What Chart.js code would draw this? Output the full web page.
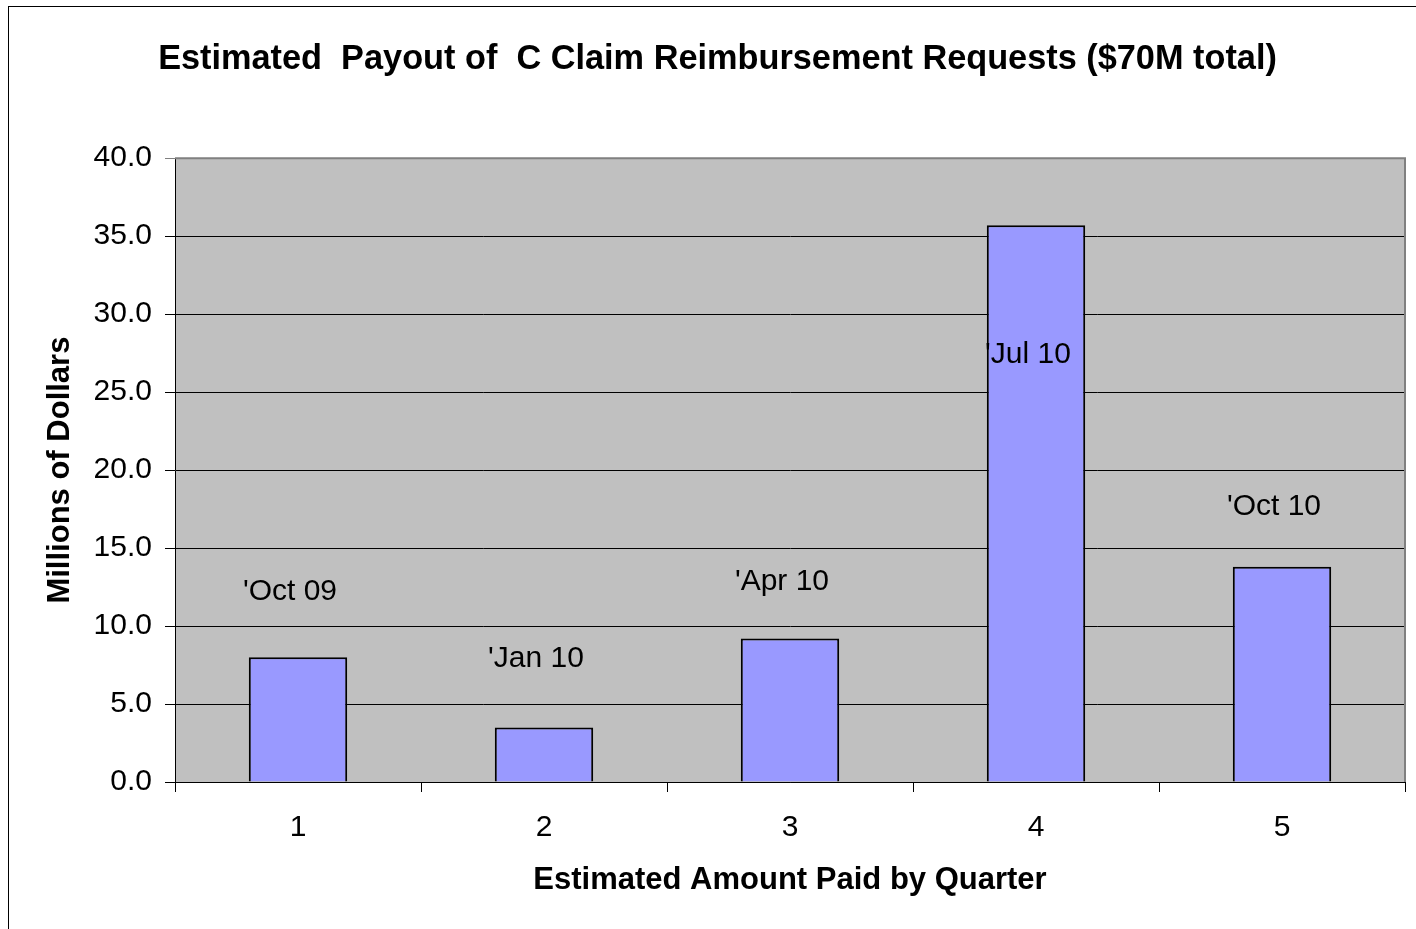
<!DOCTYPE html>
<html>
<head>
<meta charset="utf-8">
<script src="https://cdn.jsdelivr.net/npm/chart.js@4/dist/chart.umd.min.js"></script>
<style>
  html, body { margin: 0; padding: 0; background: #fff; }
  #wrap { width: 1416px; height: 929px; position: relative; }
</style>
</head>
<body>
<div id="wrap"><canvas id="payoutChart"></canvas></div>
<script>
const quarters = ["1", "2", "3", "4", "5"]
const payout = [8.0, 3.5, 9.2, 35.7, 13.8]
const quarterNames = ["'Oct 09", "'Jan 10", "'Apr 10", "'Jul 10", "'Oct 10"]
const nameLevels = [12.2, 7.9, 12.85, 27.4, 17.65]

const fontFamily = "'Liberation Sans', Arial, sans-serif"

// grey plot background, grey top/right border, outer frame
const frame = {
    id: "frame",
    beforeDraw(chart) {
        const ctx = chart.ctx
        const a = chart.chartArea
        ctx.save()
        ctx.fillStyle = "#fff"
        ctx.fillRect(0, 0, chart.width, chart.height)
        ctx.strokeStyle = "#000"
        ctx.lineWidth = 1
        ctx.strokeRect(8.5, 6.5, chart.width + 10, chart.height + 10)
        ctx.fillStyle = "#c0c0c0"
        ctx.fillRect(a.left, a.top, a.right - a.left, a.bottom - a.top)
        ctx.restore()
    },
    afterDatasetsDraw(chart) {
        const ctx = chart.ctx
        const a = chart.chartArea
        const meta = chart.getDatasetMeta(0)
        const y = chart.scales.y
        ctx.save()
        ctx.strokeStyle = "#808080"
        ctx.lineWidth = 2
        ctx.beginPath()
        ctx.moveTo(a.left, a.top)
        ctx.lineTo(a.right, a.top)
        ctx.lineTo(a.right, a.bottom)
        ctx.stroke()

        ctx.fillStyle = "#000"
        ctx.font = "30px " + fontFamily
        ctx.textAlign = "center"
        ctx.textBaseline = "middle"
        quarterNames.forEach((name, i) => {
            ctx.fillText(name, meta.data[i].x - 8, y.getPixelForValue(nameLevels[i]))
        })
        ctx.restore()
    }
}

new Chart(
    document.getElementById("payoutChart"),
    {
        type: "bar",
        data: {
            labels: quarters,
            datasets: [{
                data: payout,
                backgroundColor: "#9999ff",
                borderColor: "#000",
                borderWidth: 2,
                categoryPercentage: 1,
                barPercentage: 0.4
            }]
        },
        options: {
            responsive: true,
            maintainAspectRatio: false,
            animation: false,
            layout: {
                padding: { left: 30, right: 11, top: 0, bottom: 0 }
            },
            plugins: {
                legend: { display: false },
                tooltip: { enabled: false },
                title: {
                    display: true,
                    text: "Estimated  Payout of  C Claim Reimbursement Requests ($70M total)",
                    color: "#000",
                    font: { family: fontFamily, size: 34.3, weight: "bold" },
                    padding: { top: 39, bottom: 78 }
                }
            },
            scales: {
                x: {
                    grid: {
                        drawOnChartArea: false,
                        drawTicks: true,
                        tickLength: 10,
                        color: "#000"
                    },
                    border: { color: "#000", width: 1 },
                    ticks: {
                        color: "#000",
                        padding: 18,
                        font: { family: fontFamily, size: 30 }
                    },
                    title: {
                        display: true,
                        text: "Estimated Amount Paid by Quarter",
                        color: "#000",
                        font: { family: fontFamily, size: 31, weight: "bold" },
                        padding: { top: 0, bottom: 30 }
                    },
                    afterFit(scale) { scale.height = 147 }
                },
                y: {
                    min: 0,
                    max: 40,
                    ticks: {
                        stepSize: 5,
                        color: "#000",
                        padding: 13,
                        font: { family: fontFamily, size: 30 },
                        callback: v => v.toFixed(1)
                    },
                    grid: {
                        tickLength: 10,
                        color: c => c.tick && c.tick.value === 40 ? "#808080" : "#000"
                    },
                    border: { color: "#000", width: 1 },
                    title: {
                        display: true,
                        text: "Millions of Dollars",
                        color: "#000",
                        font: { family: fontFamily, size: 31, weight: "bold" },
                        padding: { top: 12, bottom: 0 }
                    },
                    afterFit(scale) { scale.width = 145 }
                }
            }
        },
        plugins: [frame]
    }
)
</script>
</body>
</html>
